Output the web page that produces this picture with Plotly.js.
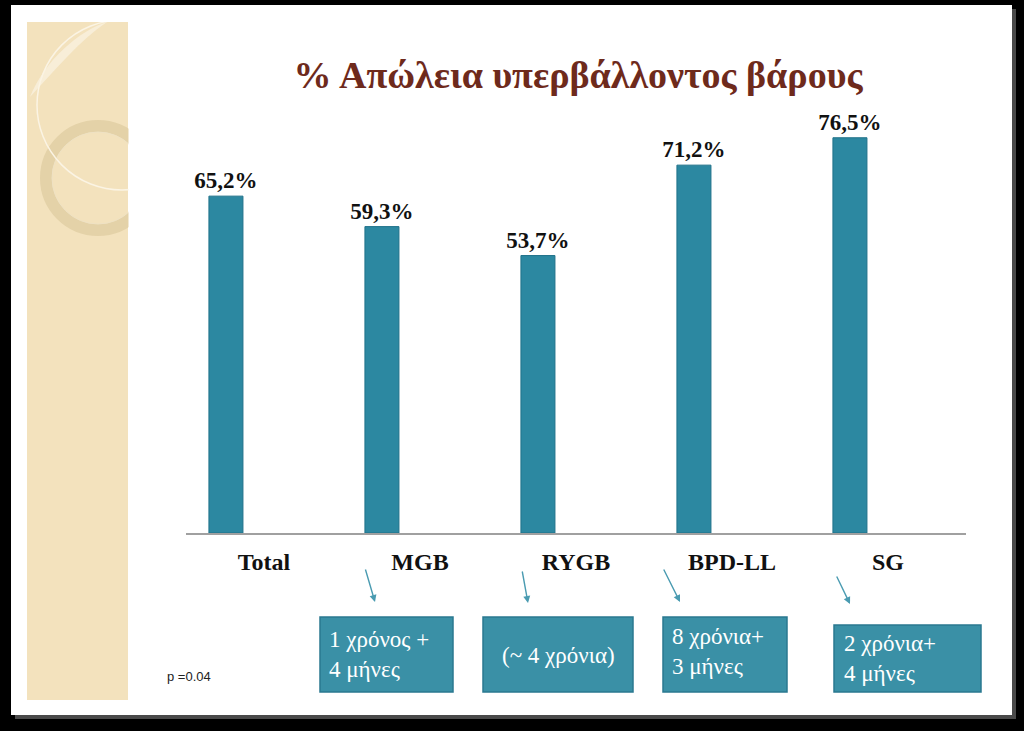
<!DOCTYPE html>
<html>
<head>
<meta charset="utf-8">
<script src="https://cdn.plot.ly/plotly-3.0.1.min.js"></script>
<style>
  html, body { margin: 0; padding: 0; background: #000; }
  #chart { width: 1024px; height: 731px; }
</style>
</head>
<body>
<div id="chart"></div>
<script>
// data
var categories = ['Total', 'MGB', 'RYGB', 'BPD-LL', 'SG'];
var values     = [65.2, 59.3, 53.7, 71.2, 76.5];
var durations  = ['', '1 χρόνος +<br>4 μήνες', '(~ 4 χρόνια)', '8 χρόνια+<br>3 μήνες', '2 χρόνια+<br>4 μήνες'];
var pValue     = 'p =0.04';

var W = 1024, H = 731;
var L = 186, R = 58, T = 68, B = 198;
var SERIF = 'Liberation Serif, DejaVu Serif, serif';

// pixel -> paper helpers (for the slide decoration only)
function px(x) { return (x - L) / (W - L - R); }
function py(y) { return (H - B - y) / (H - T - B); }

var idx = categories.map(function (c, i) { return i; });

var teal = '#2c88a1';
var boxFill = '#3a90a6';
var boxLine = '#2a7890';
var arrowCol = '#4a9bb1';

// bars sit left of the slot centre, as in the original (clustered) chart
var barW = 0.218;
var trace = {
  type: 'bar',
  x: idx,
  y: values,
  width: barW,
  offset: -0.244 - barW / 2,
  marker: { color: teal, line: { color: '#1f7189', width: 1 } },
  texttemplate: '%{y:.1f}%',
  textposition: 'outside',
  constraintext: 'none',
  cliponaxis: false,
  textfont: { family: SERIF, size: 23, color: '#111', weight: 'bold' },
  hoverinfo: 'skip'
};

var shapes = [];
function rectPx(x0, y0, x1, y1, fill, line, layer) {
  shapes.push({
    type: 'rect', xref: 'paper', yref: 'paper',
    x0: px(x0), x1: px(x1), y0: py(y1), y1: py(y0),
    fillcolor: fill, layer: layer || 'below',
    line: line || { width: 0 }
  });
}
function circlePx(cx, cy, r, col, lw) {
  shapes.push({
    type: 'circle', xref: 'paper', yref: 'paper', layer: 'below',
    x0: px(cx - r), x1: px(cx + r), y0: py(cy + r), y1: py(cy - r),
    line: { color: col, width: lw }, fillcolor: 'rgba(0,0,0,0)'
  });
}

// slide shadow + white slide
rectPx(15, 9, 1016, 719, '#4a4a4a');
rectPx(11, 5, 1012, 715, '#ffffff');
// beige strip with rings
rectPx(27, 22, 128, 700, '#f3e2bd');
shapes.push({
  type: 'path', xref: 'paper', yref: 'paper', layer: 'below',
  path: 'M ' + px(107) + ' ' + py(22) +
        ' C ' + px(80) + ' ' + py(30) + ' ' + px(45) + ' ' + py(60) + ' ' + px(30) + ' ' + py(97) +
        ' C ' + px(55) + ' ' + py(70) + ' ' + px(80) + ' ' + py(40) + ' ' + px(107) + ' ' + py(22) + ' Z',
  fillcolor: '#f8eed8', line: { width: 0 }
});
circlePx(98, 178, 52, '#e4d2a8', 12);
circlePx(98, 178, 46, '#efe2c4', 1);
circlePx(122, 105, 85, '#fbf4e4', 1.5);
// clip the rings at the strip edge
rectPx(128.5, 12, 208, 242, '#ffffff');
rectPx(20, 12, 130, 22, '#ffffff');

// duration boxes (pixel layout)
var boxes = [null, [320, 617, 453, 692], [483, 617, 633, 692], [663, 617, 787, 692], [834, 625, 981, 692]];
var boxText = [null, { x: 327, y: 654, a: 'left' }, { x: 558, y: 655, a: 'center' },
               { x: 670, y: 651, a: 'left' }, { x: 842, y: 658, a: 'left' }];
var arrows = [null, [365, 568, 375, 602], [522, 570, 528, 603], [663, 568, 680, 602], [836, 575, 850, 604]];

var annotations = [];
idx.forEach(function (i) {
  if (!durations[i]) return;
  var b = boxes[i];
  rectPx(b[0], b[1], b[2], b[3], boxFill, { color: boxLine, width: 1.5 }, 'above');
  var t = boxText[i];
  annotations.push({
    xref: 'paper', yref: 'paper', x: px(t.x), y: py(t.y),
    xanchor: t.a, yanchor: 'middle', align: 'left', showarrow: false,
    text: durations[i],
    font: { family: SERIF, size: 23, color: '#ffffff' }
  });
  var a = arrows[i];
  annotations.push({
    xref: 'paper', yref: 'paper', x: px(a[2]), y: py(a[3]),
    ax: a[0] - a[2], ay: a[1] - a[3], text: '', showarrow: true,
    arrowhead: 2, arrowsize: 1, arrowwidth: 1.4, arrowcolor: arrowCol, standoff: 0
  });
});

annotations.push({
  xref: 'paper', yref: 'paper', x: px(165), y: py(676),
  xanchor: 'left', yanchor: 'middle', showarrow: false, text: pValue,
  font: { family: 'Liberation Sans', size: 13, color: '#222' }
});

var layout = {
  width: W, height: H,
  margin: { l: L, r: R, t: T, b: B, pad: 0 },
  paper_bgcolor: '#000000',
  plot_bgcolor: 'rgba(0,0,0,0)',
  separators: ',.',
  showlegend: false,
  title: {
    text: '% Απώλεια υπερβάλλοντος βάρους',
    xref: 'paper', x: px(578), xanchor: 'center',
    yref: 'container', y: 1 - 75 / H, yanchor: 'middle',
    font: { family: SERIF, size: 38, color: '#6e2a1c', weight: 'bold' }
  },
  xaxis: {
    range: [-0.5, 4.5],
    showgrid: false, zeroline: false,
    showline: true, linecolor: '#a0a0a0', linewidth: 1.5,
    tickmode: 'array',
    tickvals: idx,
    ticktext: categories,
    ticks: '', ticklabelstandoff: 7,
    tickfont: { family: SERIF, size: 24, color: '#111', weight: 'bold' },
    fixedrange: true
  },
  yaxis: {
    range: [0, 90],
    visible: false, showgrid: false, zeroline: false,
    fixedrange: true
  },
  shapes: shapes,
  annotations: annotations
};

Plotly.newPlot('chart', [trace], layout, { displayModeBar: false, staticPlot: true });
</script>
</body>
</html>
